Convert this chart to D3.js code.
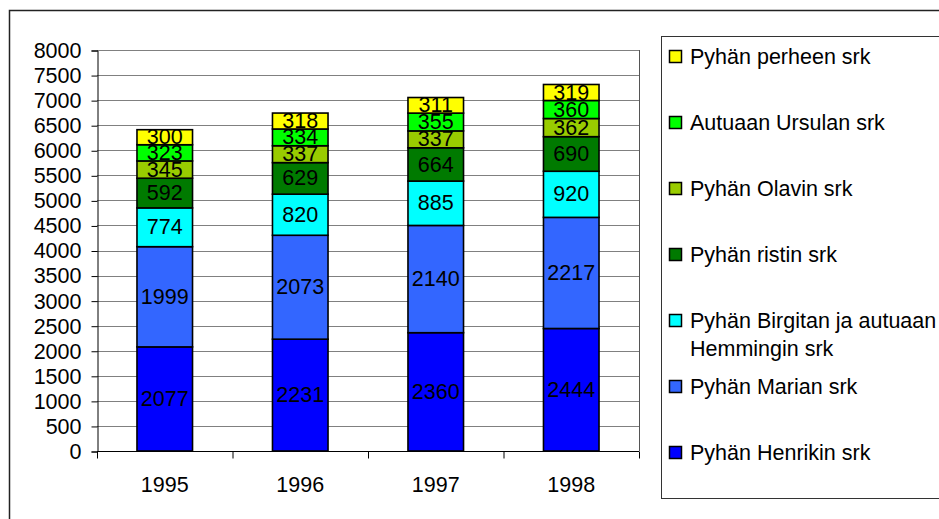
<!DOCTYPE html>
<html>
<head>
<meta charset="utf-8">
<script src="https://cdn.jsdelivr.net/npm/d3@7"></script>
<style>
  body { margin: 0; background: #fff; }
  text { font-family: "Liberation Sans", Arial, sans-serif; fill: #000; }
</style>
</head>
<body>
<svg id="chart" width="939" height="519"></svg>
<script>
const years = ['1995', '1996', '1997', '1998'];
// series, bottom of stack first
const seriesNames = [
  'Pyhän Henrikin srk',
  'Pyhän Marian srk',
  'Pyhän Birgitan ja autuaan Hemmingin srk',
  'Pyhän ristin srk',
  'Pyhän Olavin srk',
  'Autuaan Ursulan srk',
  'Pyhän perheen srk'
];
const henrikin = [2077, 2231, 2360, 2444];
const marian = [1999, 2073, 2140, 2217];
const birgitan = [774, 820, 885, 920];
const ristin = [592, 629, 664, 690];
const olavin = [345, 337, 337, 362];
const ursulan = [323, 334, 355, 360];
const perheen = [300, 318, 311, 319];
const seriesColors = ['#0000FF', '#3366FF', '#00FFFF', '#007A00', '#99CC00', '#00FF00', '#FFFF00'];
const yTicks = d3.range(0, 8001, 500);

const seriesValues = [henrikin, marian, birgitan, ristin, olavin, ursulan, perheen];
const table = years.map((y, i) => {
  const row = { year: y };
  seriesNames.forEach((n, j) => { row[n] = seriesValues[j][i]; });
  return row;
});
const stacked = d3.stack().keys(seriesNames)(table);

const svg = d3.select('#chart');
const fontSize = 21.5;

// outer chart border (runs off the right and bottom edges)
svg.append('rect').attr('x', 9.5).attr('y', 10.5).attr('width', 960).attr('height', 560)
  .attr('fill', 'none').attr('stroke', '#222').attr('stroke-width', 1.5);

const plot = { left: 97, right: 639, top: 50, bottom: 451 };
const x = d3.scaleBand().domain(years).range([plot.left, plot.right]);
const y = d3.scaleLinear().domain([0, 8000]).range([plot.bottom, plot.top]);

// gridlines
svg.append('g').selectAll('line').data(yTicks).join('line')
  .attr('x1', plot.left).attr('x2', plot.right)
  .attr('y1', (d) => Math.round(y(d)) + 0.5).attr('y2', (d) => Math.round(y(d)) + 0.5)
  .attr('stroke', '#808080').attr('stroke-width', 1);

// right border of plot area
svg.append('line').attr('x1', plot.right + 0.5).attr('x2', plot.right + 0.5)
  .attr('y1', plot.top).attr('y2', plot.bottom).attr('stroke', '#555');

// y axis
const yAxis = svg.append('g').attr('transform', `translate(${plot.left + 0.5},0.5)`)
  .call(d3.axisLeft(y).tickValues(yTicks).tickSize(6).tickPadding(10).tickFormat(d3.format('d')));
yAxis.select('.domain').attr('stroke', '#000');
yAxis.selectAll('.tick line').attr('stroke', '#000');
yAxis.selectAll('text').style('font-size', fontSize + 'px').attr('font-family', null);

// x axis: ticks at band edges
const xAxisG = svg.append('g').attr('transform', `translate(0,${plot.bottom + 0.5})`);
xAxisG.append('line').attr('x1', plot.left).attr('x2', plot.right).attr('stroke', '#000');
xAxisG.selectAll('line.tk').data(d3.range(years.length + 1)).join('line').attr('class', 'tk')
  .attr('x1', (d) => plot.left + d * x.step() + 0.5).attr('x2', (d) => plot.left + d * x.step() + 0.5)
  .attr('y1', 0).attr('y2', 7).attr('stroke', '#000');
xAxisG.selectAll('text').data(years).join('text')
  .attr('x', (d) => x(d) + x.bandwidth() / 2).attr('y', 40)
  .attr('text-anchor', 'middle').style('font-size', fontSize + 'px').text((d) => d);

// stacked bars
const barW = x.bandwidth() * 0.41;
const layers = svg.append('g').selectAll('g.layer').data(stacked).join('g')
  .attr('class', 'layer').attr('fill', (d, i) => seriesColors[i]);
layers.selectAll('rect').data((d) => d).join('rect')
  .attr('x', (d) => x(d.data.year) + (x.bandwidth() - barW) / 2)
  .attr('y', (d) => y(d[1]))
  .attr('width', barW)
  .attr('height', (d) => y(d[0]) - y(d[1]))
  .attr('stroke', '#000').attr('stroke-width', 1.6);

// value labels
svg.append('g').selectAll('g').data(stacked).join('g')
  .selectAll('text').data((d) => d.map((v) => ({ v, key: d.key }))).join('text')
  .attr('x', (d) => x(d.v.data.year) + x.bandwidth() / 2)
  .attr('y', (d) => (y(d.v[0]) + y(d.v[1])) / 2)
  .attr('dy', '0.33em')
  .attr('text-anchor', 'middle')
  .style('font-size', fontSize + 'px')
  .text((d) => d.v.data[d.key]);

// legend
const legend = svg.append('g');
legend.append('rect').attr('x', 661.5).attr('y', 36.5).attr('width', 400).attr('height', 462)
  .attr('fill', '#fff').attr('stroke', '#333').attr('stroke-width', 1);
const legendOrder = seriesNames.map((n, i) => ({ name: n, color: seriesColors[i] })).reverse();
const ly = d3.scalePoint().domain(legendOrder.map((d) => d.name)).range([56, 452]);
const items = legend.selectAll('g.item').data(legendOrder).join('g').attr('class', 'item')
  .attr('transform', (d) => `translate(0,${ly(d.name)})`);
items.append('rect').attr('x', 669.5).attr('y', -5.5).attr('width', 12).attr('height', 12)
  .attr('fill', (d) => d.color).attr('stroke', '#000').attr('stroke-width', 1.5);
items.append('text').attr('x', 690).attr('y', 7.5).style('font-size', fontSize + 'px')
  .each(function (d) {
    const t = d3.select(this);
    const words = d.name.split(' ');
    let line = [];
    let tspan = t.append('tspan').attr('x', 690).attr('dy', 0);
    words.forEach((w) => {
      line.push(w);
      tspan.text(line.join(' '));
      if (tspan.node().getComputedTextLength() > 262 && line.length > 1) {
        line.pop();
        tspan.text(line.join(' '));
        line = [w];
        tspan = t.append('tspan').attr('x', 690).attr('dy', 28).text(w);
      }
    });
  });
</script>
</body>
</html>
